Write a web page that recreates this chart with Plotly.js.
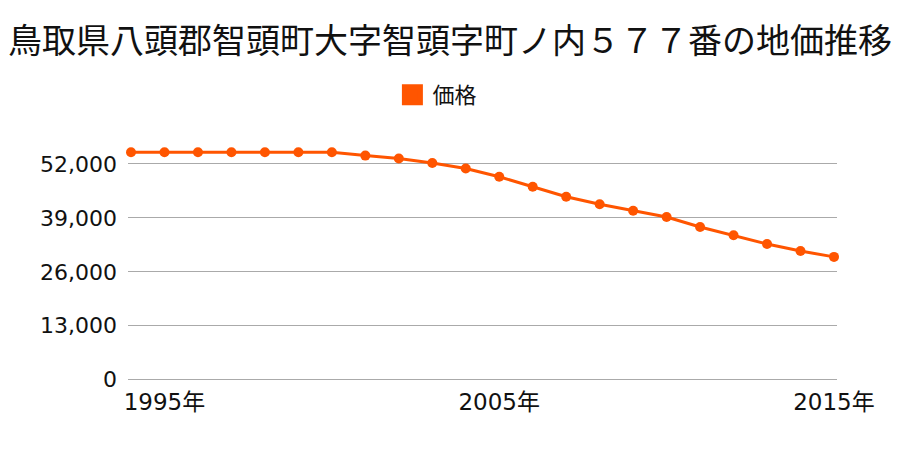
<!DOCTYPE html>
<html>
<head>
<meta charset="utf-8">
<script src="https://cdn.plot.ly/plotly-3.0.1.min.js"></script>
<style>html,body{margin:0;padding:0;background:#fff;}#chart{width:900px;height:450px;}</style>
</head>
<body>
<div id="chart"></div>
<script>
const titleText = "鳥取県八頭郡智頭町大字智頭字町ノ内５７７番の地価推移";
const seriesName = "価格";
const years = [1994,1995,1996,1997,1998,1999,2000,2001,2002,2003,2004,2005,2006,2007,2008,2009,2010,2011,2012,2013,2014,2015];
const prices = [54800,54800,54800,54800,54800,54800,54800,54000,53300,52200,50900,48900,46500,44100,42300,40700,39200,36800,34800,32700,31000,29600];
const yTickVals = [0,13000,26000,39000,52000];
const xTickVals = [1995,2005,2015];
const xTickText = ["1995年","2005年","2015年"];

const color = "#ff5500";
const fontFam = "DejaVu Sans, Noto Sans CJK JP, sans-serif";

const traces = [
  {
    x: years, y: prices, type: "scatter", mode: "lines+markers",
    line: {color: color, width: 3},
    marker: {color: color, size: 10},
    showlegend: false, cliponaxis: false, hoverinfo: "skip"
  },
  {
    x: [null], y: [null], type: "scatter", mode: "markers", name: seriesName,
    marker: {color: color, symbol: "square", size: 16, line: {color: color, width: 5}},
    showlegend: true
  }
];

const layout = {
  width: 900, height: 450,
  margin: {l: 128, r: 63, t: 139, b: 70},
  paper_bgcolor: "#fff", plot_bgcolor: "#fff",
  title: {
    text: titleText,
    font: {family: "Noto Sans CJK JP, sans-serif", size: 34, color: "#111"},
    x: 0.5, xanchor: "center", xref: "container",
    y: 1 - 41/450, yanchor: "middle", yref: "container"
  },
  showlegend: true,
  legend: {
    orientation: "h", xref: "container", yref: "container",
    x: 0.486, xanchor: "center", y: 1 - 95/450, yanchor: "middle",
    font: {family: "Noto Sans CJK JP, sans-serif", size: 22, color: "#111"},
    bgcolor: "rgba(0,0,0,0)"
  },
  xaxis: {
    range: [1993.91, 2015.09],
    tickvals: xTickVals, ticktext: xTickText,
    showgrid: false, zeroline: false, showline: false, ticks: "",
    tickfont: {family: fontFam, size: 23, color: "#111"},
    ticklabelstandoff: 6,
    fixedrange: true
  },
  yaxis: {
    range: [-60, 58000],
    tickvals: yTickVals, tickformat: ",d",
    showgrid: true, gridcolor: "#aaaaaa", gridwidth: 1,
    zeroline: true, zerolinecolor: "#aaaaaa", zerolinewidth: 1,
    showline: false, ticks: "",
    tickfont: {family: fontFam, size: 22, color: "#111"},
    ticklabelstandoff: 10,
    fixedrange: true
  }
};

Plotly.newPlot("chart", traces, layout, {staticPlot: true, displayModeBar: false});
</script>
</body>
</html>
